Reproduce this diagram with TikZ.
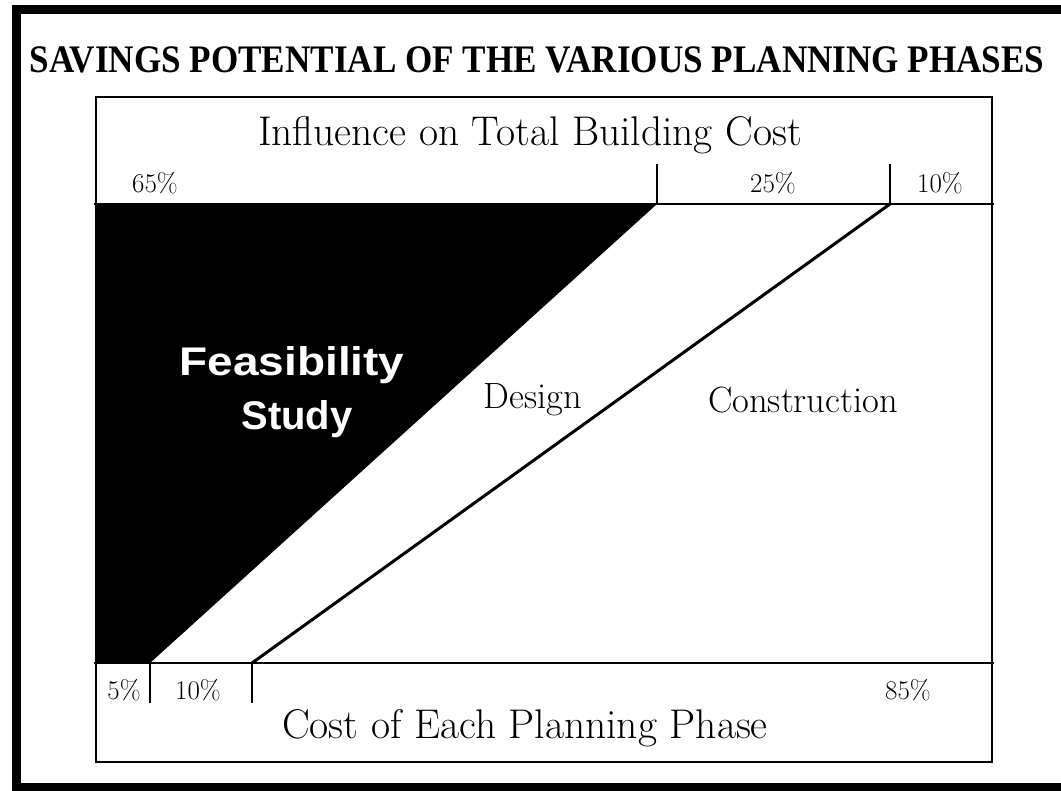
\documentclass[tikz,border=0pt]{standalone}
\usepackage{fontspec}
\newfontfamily\titlefont{Liberation Serif}
\newfontfamily\phasefont{Liberation Sans}
\begin{document}
\begin{tikzpicture}[x=1pt,y=-1pt,
  pct/.style={font=\fontsize{27}{32}\selectfont},
  caption/.style={font=\fontsize{41.5}{48}\selectfont},
  phase/.style={font=\fontsize{36.5}{42}\selectfont},
  tick/.style={line width=2pt},
  rule/.style={line width=2.5pt}]
\useasboundingbox (0,0) rectangle (1061,791);

% frame and title
\draw[line width=9pt] (1061,10) -- (16,10) -- (16,787) -- (1061,787);
\node[font=\titlefont\bfseries\fontsize{39}{44}\selectfont,xscale=0.9] (title) at (537,60) {SAVINGS POTENTIAL OF THE VARIOUS PLANNING PHASES};

% corners of the chart
\coordinate (a) at (96,204);
\coordinate (b) at (657,204);
\coordinate (c) at (890,204);
\coordinate (d) at (150,663);
\coordinate (e) at (252,663);
\coordinate (f) at (96,663);

\fill (a) -- (b) -- (d) -- (f) -- cycle;
\draw[line width=3pt] (c) -- (e);

\draw[rule] (96,97) rectangle (992,762);
\draw[rule] (94,204) -- (994,204);
\draw[rule] (94,663) -- (994,663);

\draw[tick] (b) -- ++(0,-40);
\draw[tick] (c) -- ++(0,-40);
\draw[tick] (d) -- ++(0,40);
\draw[tick] (e) -- ++(0,40);

\node[caption] (top) at (530,135) {Influence on Total Building Cost};
\node[caption] (bottom) at (525,728) {Cost of Each Planning Phase};

\node[pct] (p65) at (155,183) {65\%};
\node[pct] (p25) at (773,183) {25\%};
\node[pct] (p10) at (940,183) {10\%};
\node[pct] (q5) at (124,690) {5\%};
\node[pct] (q10) at (198,690) {10\%};
\node[pct] (q85) at (908,690) {85\%};

\node[font=\phasefont\bfseries\fontsize{40}{54}\selectfont,text=white,align=center] (feas) at (292,392) {\scalebox{1.15}[1]{Feasibility}\\\hspace{10pt}Study};
\node[phase] (design) at (533,400) {Design};
\node[phase] (constr) at (803,400) {Construction};

\end{tikzpicture}
\end{document}
